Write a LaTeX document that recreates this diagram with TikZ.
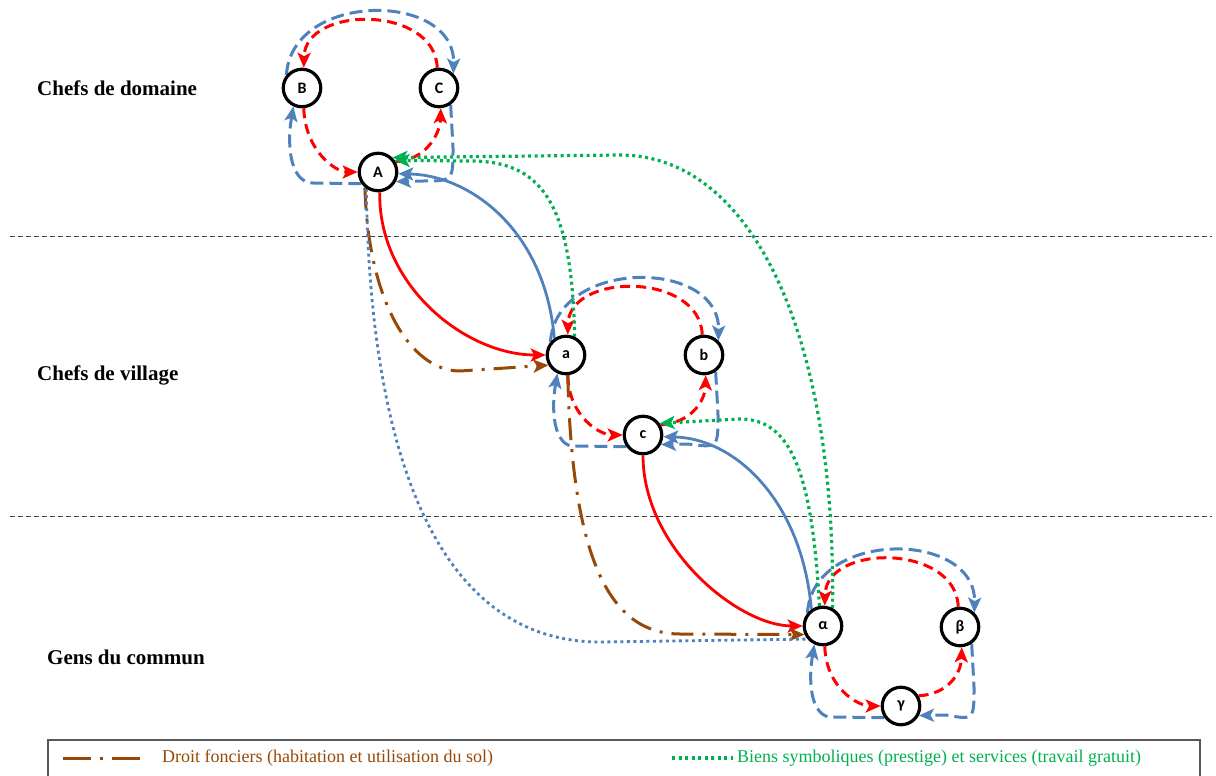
\documentclass[tikz,border=0pt]{standalone}
\usepackage{fontspec}
\setmainfont{Liberation Serif}
\newfontfamily\lettersfont{Carlito}
\usetikzlibrary{arrows.meta,backgrounds}
\definecolor{cred}{RGB}{255,0,0}
\definecolor{cblue}{RGB}{79,129,189}
\definecolor{cgreen}{RGB}{0,176,80}
\definecolor{cbrown}{RGB}{151,72,6}
\tikzset{
  actor/.style={circle, draw=black, line width=3.2pt, fill=white, minimum size=37.5pt,
    inner sep=0pt, font=\lettersfont\bfseries\fontsize{16}{16}\selectfont},
  arrowtip/.style={-{Stealth[length=15pt,width=13pt,inset=3.5pt]}},
  reddash/.style={draw=cred, line width=3pt, dash pattern=on 10pt off 6pt, arrowtip},
  bluedash/.style={draw=cblue, line width=3pt, dash pattern=on 13pt off 6pt, arrowtip},
  redline/.style={draw=cred, line width=2.8pt, arrowtip},
  blueline/.style={draw=cblue, line width=2.8pt, arrowtip},
  landright/.style={draw=cbrown, line width=3pt, dash pattern=on 22pt off 9pt on 3pt off 9pt, arrowtip},
  symbolic/.style={draw=cgreen, line width=3.2pt, dash pattern=on 3pt off 3.5pt, arrowtip},
  bluedot/.style={draw=cblue, line width=2.8pt, dash pattern=on 3pt off 3.5pt},
  level/.style={font=\bfseries\fontsize{21}{23}\selectfont, anchor=west, inner sep=0pt},
  separator/.style={draw=black!75, line width=0.8pt, dash pattern=on 5pt off 3pt},
  legendtext/.style={font=\fontsize{18}{20}\selectfont, anchor=west, inner sep=0pt}
}
% exchanges inside one group: #1 top-left, #2 top-right, #3 bottom
\newcommand\triad[3]{%
  \draw[reddash] (#1.-85) .. controls ([shift={(3,62)}]#1.center) and ([shift={(-43,0)}]#3.center) .. (#3.180);
  \draw[reddash] (#3.30) .. controls ([shift={(47,-12)}]#3.center) and ([shift={(1,47)}]#2.center) .. (#2.-85);
  \draw[reddash] (#2.95) .. controls ([shift={(-4,-83)}]#2.center) and ([shift={(3,-83)}]#1.center) .. (#1.85);
  \draw[bluedash] (#3.-145) -- ([shift={(-65,11)}]#3.center)
     .. controls ([shift={(-10,95)}]#1.center) and ([shift={(-16,62)}]#1.center) .. (#1.-115);
  \draw[bluedash] (#1.140) .. controls ([shift={(-10,-97)}]#1.center) and ([shift={(16,-97)}]#2.center) .. (#2.45);
  \draw[bluedash] (#2.-55) -- ([shift={(14,60)}]#2.center)
     .. controls ([shift={(14,93)}]#2.center) .. ([shift={(45,9)}]#3.center) -- (#3.-28);
}
\begin{document}
\begin{tikzpicture}[x=1pt,y=-1pt]
\useasboundingbox (0,0) rectangle (1216,776);

% level names
\node[level] (lvl1) at (37,88) {Chefs de domaine};
\node[level] (lvl2) at (37,375) {Chefs de village};
\node[level] (lvl3) at (47,657) {Gens du commun};

% chefs de domaine
\node[actor] (dB) at (302,88) {B};
\node[actor] (dC) at (439,88) {C};
\node[actor] (dA) at (378,172) {A};
% chefs de village
\node[actor] (va) at (566,355) {a};
\node[actor] (vb) at (704,355) {b};
\node[actor] (vc) at (643,435) {c};
% gens du commun
\node[actor] (gal) at (823,626) {α};
\node[actor] (gbe) at (960,627) {β};
\node[actor] (gga) at (901,706) {γ};

\begin{scope}[on background layer]
  \draw[separator] (10,236) -- (1212,236);
  \draw[separator] (10,516) -- (1212,516);

  \triad{dB}{dC}{dA}
  \triad{va}{vb}{vc}
  \triad{gal}{gbe}{gga}

  % between levels
  \draw[redline] (dA.-85) .. controls (378,285) and (465,355) .. (va.180);
  \draw[redline] (vc.-90) .. controls ([shift={(0,113)}]vc.center) and ([shift={(-85,0)}]gal.center) .. (gal.180);
  \draw[blueline] (va.125) .. controls (545,230) and (470,175) .. (dA.-5);
  \draw[blueline] (gal.125) .. controls ([shift={(-21,-125)}]gal.center) and ([shift={(92,3)}]vc.center) .. (vc.-5);
  \draw[landright] (dA.-130) .. controls (368,300) and (410,371) .. (460,371) -- (va.-150);
  \draw[landright] (va.-85) .. controls (572,560) and (610,634) .. (680,634) -- (gal.-155);
  \draw[bluedot] (dA.-125) .. controls (370,460) and (440,642) .. (600,642) -- (gal.-140);
  \draw[symbolic] (va.65) .. controls (572,200) and (540,161) .. (470,161) -- (dA.35);
  \draw[symbolic] (gal.62) .. controls (836,330) and (750,155) .. (620,155) -- (dA.45);
  \draw[symbolic] (gal.100) .. controls (812,470) and (790,419) .. (740,419) -- (vc.35);
\end{scope}

% legend
\draw[draw=black!65, line width=1.2pt] (48,740) rectangle (1200,800);
\coordinate (k1a) at (63,758);
\coordinate (k1b) at (143,758);
\draw[draw=cbrown, line width=3pt, dash pattern=on 28pt off 9pt on 3pt off 9pt] (k1a) -- (k1b);
\node[legendtext, text=cbrown] (k1) at (162,758) {Droit fonciers (habitation et utilisation du sol)};
\coordinate (k2a) at (672,758);
\coordinate (k2b) at (733,758);
\draw[draw=cgreen, line width=3.2pt, dash pattern=on 3pt off 3.5pt] (k2a) -- (k2b);
\node[legendtext, text=cgreen] (k2) at (737,758) {Biens symboliques (prestige) et services (travail gratuit)};
\end{tikzpicture}
\end{document}
